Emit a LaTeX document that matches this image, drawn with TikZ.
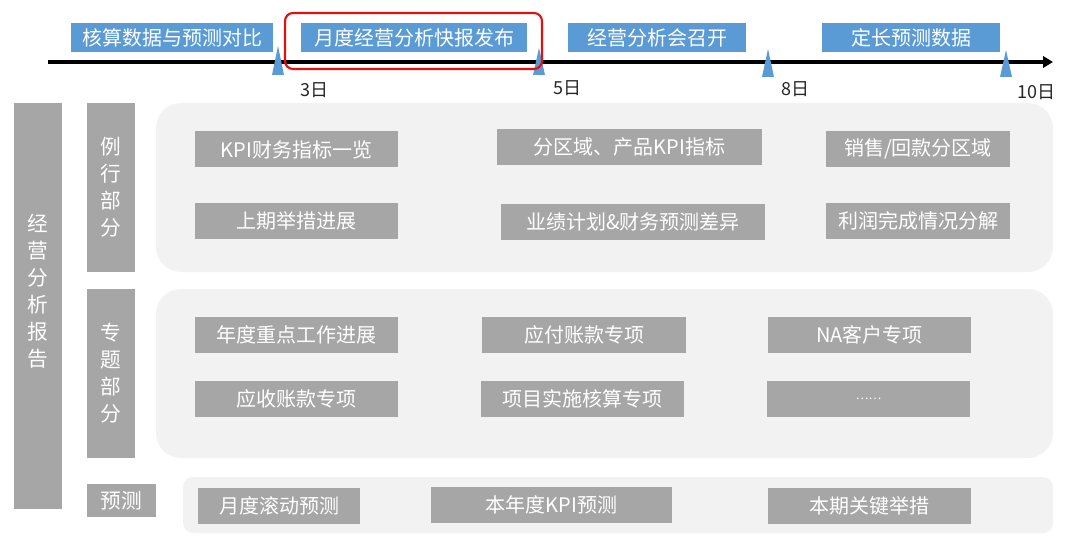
\documentclass[tikz,border=0pt]{standalone}
\usepackage{fontspec}
\setmainfont{Noto Sans CJK SC}
\usetikzlibrary{arrows.meta}
\definecolor{bluT}{RGB}{91,155,213}
\definecolor{grigio}{RGB}{166,166,166}
\definecolor{fondo}{RGB}{242,242,242}
\definecolor{rosso}{RGB}{228,16,16}
\begin{document}
\begin{tikzpicture}[x=0.75pt,y=-0.75pt,
    blu/.style={fill=bluT,text=white,inner sep=0pt,minimum height=21.75pt,font=\fontsize{15}{18}\selectfont},
    gbox/.style={fill=grigio,text=white,inner sep=0pt,minimum height=27pt,font=\fontsize{15}{18}\selectfont},
    pannello/.style={fill=fondo,inner sep=0pt,rounded corners=18.75pt},
    barra/.style={fill=grigio,text=white,inner sep=0pt,align=center,font=\fontsize{15.5}{20.25}\selectfont},
    giorno/.style={text=black!85,inner sep=0pt,font=\fontsize{13.5}{16}\selectfont},
    tacca/.style={fill=bluT}]
        \useasboundingbox (0,0) rectangle (1080,552);

        % Linea del tempo
        \coordinate (t0) at (48,62);
        \coordinate (t1) at (1053,62);
        \draw[line width=2.5pt,-{Triangle[length=7.5pt,width=8.5pt]}] (t0) -- (t1);
        \fill[tacca] (272,75) -- (278,46) -- (284,75) -- cycle;
        \fill[tacca] (533,75) -- (539,48) -- (545,75) -- cycle;
        \fill[tacca] (762,77) -- (768,49) -- (774,77) -- cycle;
        \fill[tacca] (1000,77) -- (1006,50) -- (1012,77) -- cycle;
        \node[giorno] (g3) at (314,90) {3日};
        \node[giorno] (g5) at (567,88) {5日};
        \node[giorno] (g8) at (795,89) {8日};
        \node[giorno] (g10) at (1036,92) {10日};

        % Fasi sopra la linea
        \node[blu,minimum width=151.5pt] (hesuan) at (172,38) {核算数据与预测对比};
        \node[blu,minimum width=169.5pt] (kuaibao) at (414,38) {月度经营分析快报发布};
        \node[blu,minimum width=133.5pt] (huiyi) at (657,38) {经营分析会召开};
        \node[blu,minimum width=133.5pt] (dingchang) at (911,38) {定长预测数据};
        \draw[rosso,line width=1.6pt,rounded corners=6pt] (285,13) rectangle (542,69);

        % Colonne a sinistra
        \node[barra,minimum width=36pt,minimum height=304.5pt] (report) at (38,306) {};
        \node[barra] (report-t) at (38,291) {经\\营\\分\\析\\报\\告};
        \node[barra,minimum width=36pt,minimum height=126.75pt] (lihang) at (111,187.5) {例\\行\\部\\分};
        \node[barra,minimum width=36pt,minimum height=126.75pt] (zhuanti) at (111,373.5) {专\\题\\部\\分};
        \node[barra,minimum width=51.75pt,minimum height=24.75pt] (yuce) at (121.5,500.5) {预测};

        % Pannelli grigio chiaro
        \node[pannello,minimum width=672.75pt,minimum height=126.75pt] (p-lihang) at (604.5,187.5) {};
        \node[pannello,minimum width=672.75pt,minimum height=126.75pt] (p-zhuanti) at (604.5,373.5) {};
        \node[pannello,rounded corners=7.5pt,minimum width=652.5pt,minimum height=42pt] (p-yuce) at (618,505) {};

        % Parte ordinaria
        \node[gbox,minimum width=152.25pt] (kpi) at (296.5,149.5) {KPI财务指标一览};
        \node[gbox,minimum width=198.75pt] (quyu) at (629.5,147) {分区域、产品KPI指标};
        \node[gbox,minimum width=138pt] (xiaoshou) at (918,149) {销售/回款分区域};
        \node[gbox,minimum width=152.25pt] (jujie) at (296.5,221) {上期举措进展};
        \node[gbox,minimum width=198pt] (chayi) at (633,222) {业绩计划\&财务预测差异};
        \node[gbox,minimum width=138pt] (lirun) at (918,221) {利润完成情况分解};

        % Parte tematica
        \node[gbox,minimum width=152.25pt] (niandu) at (296.5,335) {年度重点工作进展};
        \node[gbox,minimum width=153pt] (yingfu) at (584,335) {应付账款专项};
        \node[gbox,minimum width=152.25pt] (na) at (869.5,335) {NA客户专项};
        \node[gbox,minimum width=152.25pt] (yingshou) at (296.5,398.5) {应收账款专项};
        \node[gbox,minimum width=152.25pt] (xiangmu) at (582.5,398.5) {项目实施核算专项};
        \node[gbox,minimum width=152.25pt,font=\fontsize{9}{10}\selectfont] (altro) at (868.5,398.5) {……};

        % Previsione
        \node[gbox,minimum width=121.5pt] (gundong) at (279,506) {月度滚动预测};
        \node[gbox,minimum width=180.75pt] (kpiyuce) at (551.5,505) {本年度KPI预测};
        \node[gbox,minimum width=152.25pt] (juecuo) at (869.5,506) {本期关键举措};
      \end{tikzpicture}
\end{document}
